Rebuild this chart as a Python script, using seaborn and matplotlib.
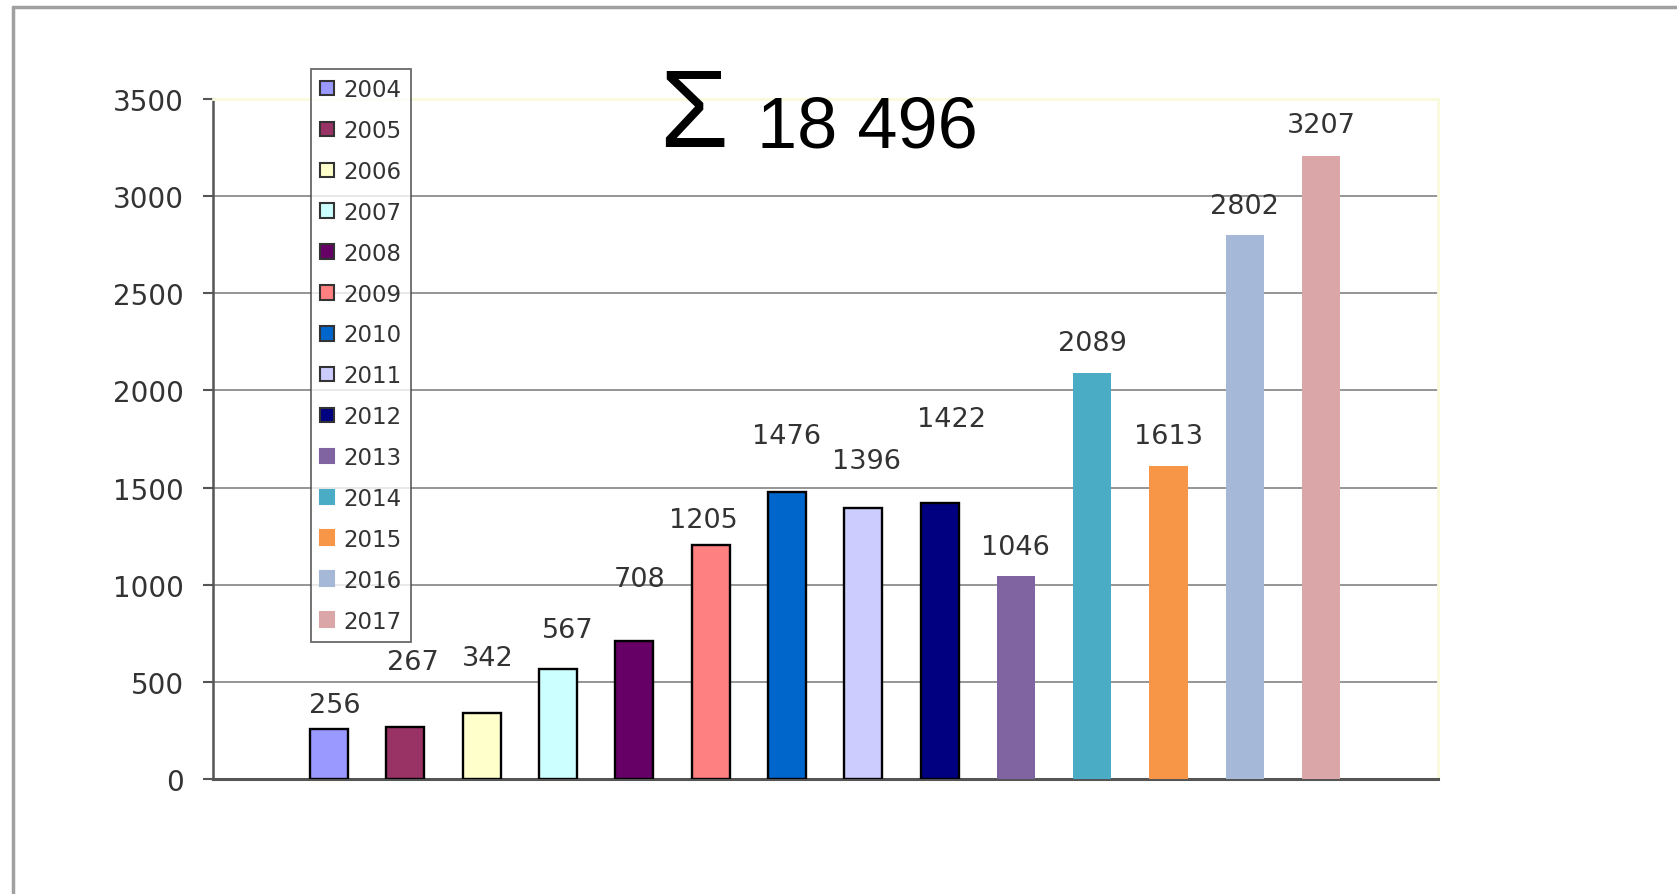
import matplotlib
matplotlib.use("Agg")
import matplotlib.pyplot as plt
from matplotlib.patches import Patch
from matplotlib.lines import Line2D
import seaborn as sns
import pandas as pd

years = ["2004", "2005", "2006", "2007", "2008", "2009", "2010",
         "2011", "2012", "2013", "2014", "2015", "2016", "2017"]
values = [256, 267, 342, 567, 708, 1205, 1476, 1396, 1422, 1046, 2089, 1613, 2802, 3207]
colors = ["#9999FF", "#993366", "#FFFFCC", "#CCFFFF", "#660066", "#FF8080", "#0066CC",
          "#CCCCFF", "#000080", "#8064A2", "#4BACC6", "#F79646", "#A6B8D8", "#DBA6A8"]
outlined = [True] * 9 + [False] * 5
yticks = [0, 500, 1000, 1500, 2000, 2500, 3000, 3500]
total_label = "18 496"

# label offsets (px) relative to bar top centre
label_dx = [5, 7, 6, 9, 5, -7, 0, 3, 11, 0, 0, 0, 0, 0]
label_dy = [23, 61, 51, 36, 58, 23, 53, 44, 78, 27, 28, 28, 27, 29]

W, H = 1677, 895
PX = 0.72 * 1.07  # offsets estimated at display scale -> points

sns.set_theme(style="white")
plt.rcParams['font.family'] = ['DejaVu Sans']

df = pd.DataFrame({"year": years, "value": values})

fig = plt.figure(figsize=(W / 100, H / 100), dpi=100)
ax = fig.add_axes([213 / W, 1 - 780 / H, (1438 - 213) / W, (780 - 100) / H])

sns.barplot(data=df, x="year", y="value", hue="year", palette=colors,
            width=0.5, saturation=1, legend=False, ax=ax, zorder=3)

for cont, out in zip(ax.containers, outlined):
    for p in cont:
        if out:
            p.set_edgecolor("black")
            p.set_linewidth(1.7)
        else:
            p.set_edgecolor("none")

ax.set_xlim(-1.52, 14.53)
ax.set_ylim(0, 3500)
ax.set_yticks(yticks)
ax.set_xticks([])
ax.set_xlabel("")
ax.set_ylabel("")

ax.yaxis.grid(True, color="#8c8c8c", linewidth=1.3, zorder=0)
ax.set_axisbelow(True)
ax.get_ygridlines()[-1].set_color("#FAFADC")

for s in ["top", "right"]:
    ax.spines[s].set_color("#FAFADC")
    ax.spines[s].set_linewidth(2)
ax.spines["left"].set_color("#555555")
ax.spines["left"].set_linewidth(1.8)
ax.spines["bottom"].set_color("#555555")
ax.spines["bottom"].set_linewidth(2.2)

ax.tick_params(axis="y", which="major", left=True, direction="out", length=7,
               width=1.5, color="#555555", pad=14, labelsize=20, labelcolor="#333333")

for i, v in enumerate(values):
    ax.annotate(str(v), xy=(i, v), xytext=(label_dx[i] * PX, label_dy[i] * PX),
                textcoords="offset points", ha="center", va="center",
                fontsize=19.5, color="#333333")

handles = []
for c, out in zip(colors, outlined):
    handles.append(Patch(facecolor=c, edgecolor="#333333" if out else c, linewidth=1.5))
leg = ax.legend(handles, years, loc="upper left",
                bbox_to_anchor=((311 - 213) / (1438 - 213), (780 - 70) / (780 - 100)),
                frameon=True, fancybox=False, fontsize=16.5, handlelength=0.6,
                handleheight=0.6, handletextpad=0.4, labelspacing=0.78,
                borderpad=0.4, borderaxespad=0, labelcolor="#333333")
leg.get_frame().set_edgecolor("#444444")
leg.get_frame().set_linewidth(1.3)

fig.text(659 / W, 1 - 147 / H, "Σ", fontsize=80, color="black",
         ha="left", va="baseline", family="Liberation Sans")
fig.text(757 / W, 1 - 147 / H, total_label, fontsize=52, color="black",
         ha="left", va="baseline", family="Liberation Sans")

# outer frame
fig.add_artist(Line2D([13 / W, 13 / W], [0, 1 - 8 / H], transform=fig.transFigure,
                      color="#a0a0a0", linewidth=2.5))
fig.add_artist(Line2D([13 / W, 1], [1 - 8 / H, 1 - 8 / H], transform=fig.transFigure,
                      color="#a0a0a0", linewidth=2.5))

fig.savefig("out.png", dpi=100)
